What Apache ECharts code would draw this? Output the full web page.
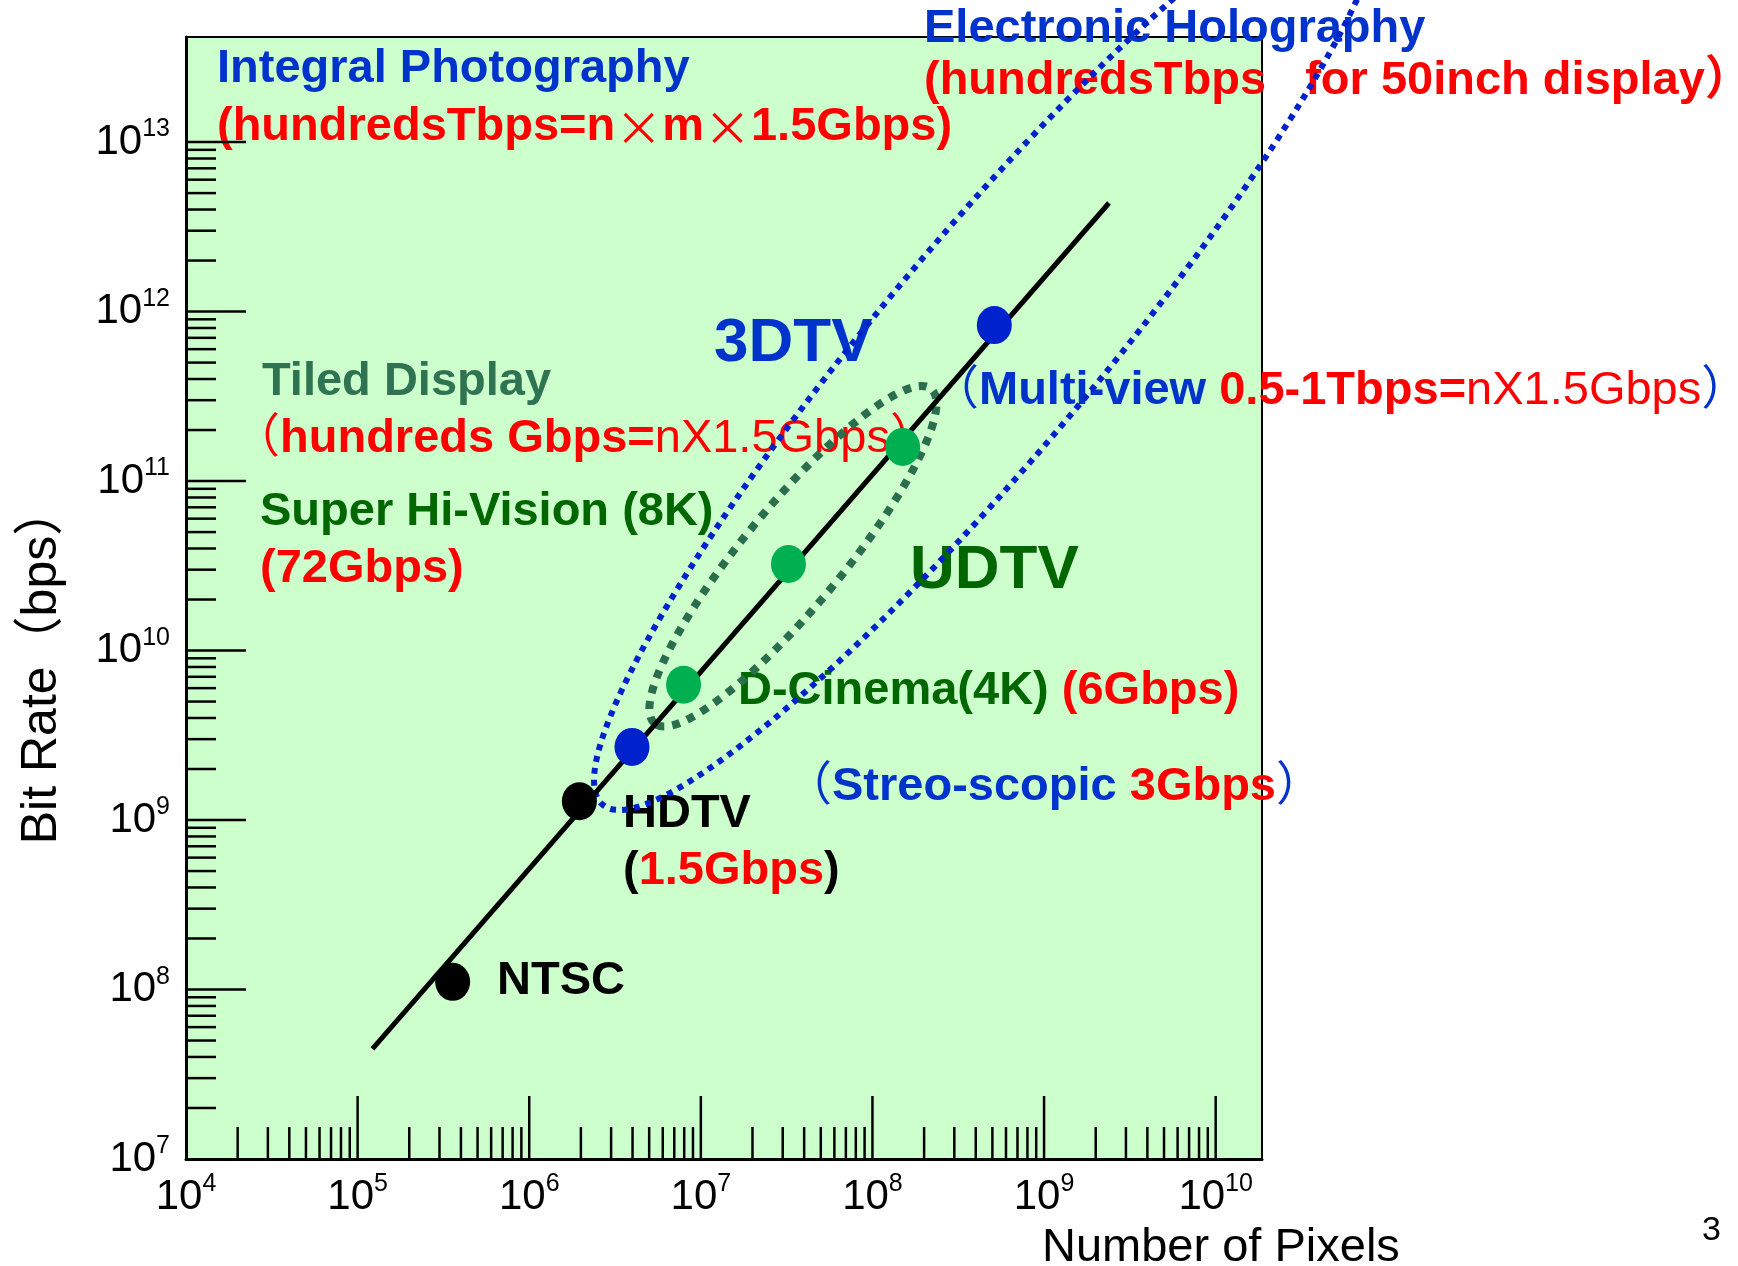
<!DOCTYPE html>
<html><head><meta charset="utf-8">
<script src="https://cdn.jsdelivr.net/npm/echarts@6/dist/echarts.min.js"></script>
<style>html,body{margin:0;padding:0;background:#fff}#c{width:1738px;height:1266px}</style>
</head><body><div id="c"></div>
<script>
// ---------------- data ----------------
const pointNames    = ['NTSC', 'HDTV', 'Stereo-scopic 3DTV', 'D-Cinema (4K)', 'Super Hi-Vision (8K)', 'Tiled Display', 'Multi-view 3DTV'];
const pointPixels   = [3.58e5, 1.96e6, 3.97e6, 7.93e6, 3.24e7, 1.50e8, 5.13e8];
const pointBitRates = [1.11e8, 1.29e9, 2.70e9, 6.28e9, 3.24e10, 1.59e11, 8.32e11];
const trendPixels   = [1.22e5, 2.39e9];
const trendBitRates = [4.46e7, 4.37e12];
const xTickExponents = [4, 5, 6, 7, 8, 9, 10];
const yTickExponents = [7, 8, 9, 10, 11, 12, 13];
const minorMultipliers = [2, 3, 4, 5, 6, 7, 8, 9];
// regions (ellipses in log-log space): centre, one tip of the long axis, half width in decades
const region3DTVCenter = [4.78e8, 6.30e11];
const region3DTVTip    = [2.68e6, 1.23e9];
const region3DTVHalfWidth = 0.624;
const regionUDTVCenter = [3.44e7, 3.60e10];
const regionUDTVTip    = [2.20e8, 3.49e11];
const regionUDTVHalfWidth = 0.29;

// ---------------- styles ----------------
const pointColors = ['#000000', '#000000', '#0022CC', '#00B050', '#00B050', '#00B050', '#0022CC'];
const FONT = "'Liberation Sans', Arial, 'Noto Sans CJK JP', sans-serif";
const CJK = "'Noto Sans CJK JP', 'Liberation Sans', sans-serif";
const BLUE = '#0033CC', RED = '#FF0000', DGREEN = '#006600', TEAL = '#2F7352';
const X_MIN = 4, X_MAX = 10.27, Y_MIN = 7, Y_MAX = 13.62;
const lg = Math.log10;

// tick table built from the tick exponents
const tickData = [];
xTickExponents.forEach(e => { if (e > X_MIN) tickData.push([e, Y_MIN, 0, 0]); });
xTickExponents.slice(0, -1).forEach(e => minorMultipliers.forEach(k => tickData.push([e + lg(k), Y_MIN, 1, 0])));
yTickExponents.forEach(e => { if (e > Y_MIN) tickData.push([X_MIN, e, 0, 1]); });
yTickExponents.slice(0, -1).forEach(e => minorMultipliers.forEach(k => tickData.push([X_MIN, e + lg(k), 1, 1])));

const pointData = pointNames.map((n, i) => ({
  name: n, value: [lg(pointPixels[i]), lg(pointBitRates[i])], itemStyle: { color: pointColors[i], opacity: 1 }
}));
const trendData = trendPixels.map((p, i) => [lg(p), lg(trendBitRates[i])]);

const tickRich = {
  m: { fontFamily: FONT, fontSize: 42, lineHeight: 50, color: '#000' },
  s: { fontFamily: FONT, fontSize: 25, lineHeight: 36, verticalAlign: 'top', color: '#000' }
};
const powLabel = v => (Math.abs(v - Math.round(v)) < 1e-6) ? '{m|10}{s|' + Math.round(v) + '}' : '';

function ellipseSeries(center, tip, hw, color, width, dash) {
  return {
    type: 'custom', coordinateSystem: 'cartesian2d', clip: false, silent: true, z: 3,
    data: [[lg(center[0]), lg(center[1]), lg(tip[0]), lg(tip[1]), hw]],
    renderItem: function (params, api) {
      const c = api.coord([api.value(0), api.value(1)]);
      const t = api.coord([api.value(2), api.value(3)]);
      const a = Math.hypot(t[0] - c[0], t[1] - c[1]);
      const ang = Math.atan2(c[1] - t[1], t[0] - c[0]);
      const b = api.value(4) * api.size([1, 0])[0];
      return {
        type: 'group', x: c[0], y: c[1], rotation: ang,
        children: [{ type: 'ellipse', shape: { cx: 0, cy: 0, rx: a, ry: b },
          style: { fill: 'none', stroke: color, lineWidth: width, lineDash: dash } }]
      };
    }
  };
}

// ---------------- annotation text ----------------
function rs(color, weight, size, family) {
  return { fill: color, color: color, fontWeight: weight, fontSize: size, lineHeight: Math.round(size * 1.19), fontFamily: family || FONT };
}
const richAll = {
  blueB: rs(BLUE, 'bold', 47), blueR: rs(BLUE, 'normal', 47),
  redB: rs(RED, 'bold', 47), redR: rs(RED, 'normal', 47), redX: rs(RED, 'normal', 47, CJK),
  grnB: rs(DGREEN, 'bold', 47), tealB: rs(TEAL, 'bold', 47), blkB: rs('#000', 'bold', 47),
  big3d: rs(BLUE, 'bold', 62), bigUd: rs(DGREEN, 'bold', 62), page: rs('#000', 'normal', 34),
  axisName: rs('#000', 'normal', 47)
};
function txt(x, y, text) {
  return { type: 'text', x: x, y: y, z: 1, silent: true,
    style: { text: text, rich: richAll, verticalAlign: 'top', align: 'left', font: '47px ' + FONT } };
}
const annotations = [
  txt(217, 41, '{blueB|Integral Photography}'),
  txt(217, 99, '{redB|(hundredsTbps=n}{redX|×}{redB|m}{redX|×}{redB|1.5Gbps)}'),
  txt(924, 1, '{blueB|Electronic Holography}'),
  txt(924, 53, '{redB|(hundredsTbps   for 50inch display）}'),
  txt(262, 354, '{tealB|Tiled Display}'),
  txt(233, 411, '{redR|（}{redB|hundreds Gbps=}{redR|nX1.5Gbps）}'),
  txt(260, 484, '{grnB|Super Hi-Vision (8K)}'),
  txt(260, 541, '{redB|(72Gbps)}'),
  txt(714, 307, '{big3d|3DTV}'),
  txt(910, 534, '{bigUd|UDTV}'),
  txt(932, 363, '{blueR|（}{blueB|Multi-view }{redB|0.5-1Tbps=}{redR|nX1.5Gbps}{blueR|）}'),
  txt(738, 663, '{grnB|D-Cinema(4K)}{redB| (6Gbps)}'),
  txt(785, 759, '{blueR|（}{blueB|Streo-scopic }{redB|3Gbps}{blueR|）}'),
  txt(623, 786, '{blkB|HDTV}'),
  txt(623, 843, '{blkB|(}{redB|1.5Gbps}{blkB|)}'),
  txt(497, 953, '{blkB|NTSC}'),
  txt(1042, 1220, '{axisName|Number of Pixels}'),
  txt(1702, 1211, '{page|3}')
];

const chart = echarts.init(document.getElementById('c'), null, { renderer: 'canvas' });
chart.setOption({
  animation: false,
  backgroundColor: '#ffffff',
  grid: { left: 186, top: 37, width: 1076, height: 1122, show: true, backgroundColor: '#CCFFCC',
          borderColor: '#000', borderWidth: 2, containLabel: false, outerBoundsMode: 'none' },
  xAxis: {
    type: 'value', min: X_MIN, max: X_MAX, interval: 1,
    axisLine: { show: true, lineStyle: { color: '#000', width: 3 } },
    axisTick: { show: false }, splitLine: { show: false },
    axisLabel: { margin: 13, formatter: powLabel, rich: tickRich, showMinLabel: true, showMaxLabel: true }
  },
  yAxis: {
    type: 'value', min: Y_MIN, max: Y_MAX, interval: 1,
    name: 'Bit Rate（bps）', nameLocation: 'middle', nameGap: 114,
    nameTextStyle: { fontFamily: FONT, fontSize: 50, color: '#000', lineHeight: 60, padding: [0, 134, 0, 0] },
    axisLine: { show: true, lineStyle: { color: '#000', width: 3 } },
    axisTick: { show: false }, splitLine: { show: false },
    axisLabel: { margin: 16, formatter: powLabel, rich: tickRich }
  },
  graphic: { elements: annotations },
  series: [
    { type: 'custom', coordinateSystem: 'cartesian2d', silent: true, z: 2, data: tickData,
      renderItem: function (params, api) {
        const p = api.coord([api.value(0), api.value(1)]);
        const major = api.value(2) === 0, isX = api.value(3) === 0;
        const len = isX ? (major ? 63 : 32) : (major ? 60 : 30);
        const shape = isX ? { x1: p[0], y1: p[1], x2: p[0], y2: p[1] - len }
                          : { x1: p[0], y1: p[1], x2: p[0] + len, y2: p[1] };
        return { type: 'line', shape: shape, style: { stroke: '#000', lineWidth: 2.5 } };
      } },
    { type: 'line', data: trendData, symbol: 'none', z: 4, silent: true,
      lineStyle: { color: '#000', width: 5 } },
    ellipseSeries(region3DTVCenter, region3DTVTip, region3DTVHalfWidth, '#0022CC', 6, [6, 6]),
    ellipseSeries(regionUDTVCenter, regionUDTVTip, regionUDTVHalfWidth, '#2A6E4E', 8, [8, 8]),
    { type: 'scatter', data: pointData, symbol: 'circle', symbolSize: [35, 38], z: 5, silent: true,
      itemStyle: { opacity: 1 } }
  ]
});
</script></body></html>
